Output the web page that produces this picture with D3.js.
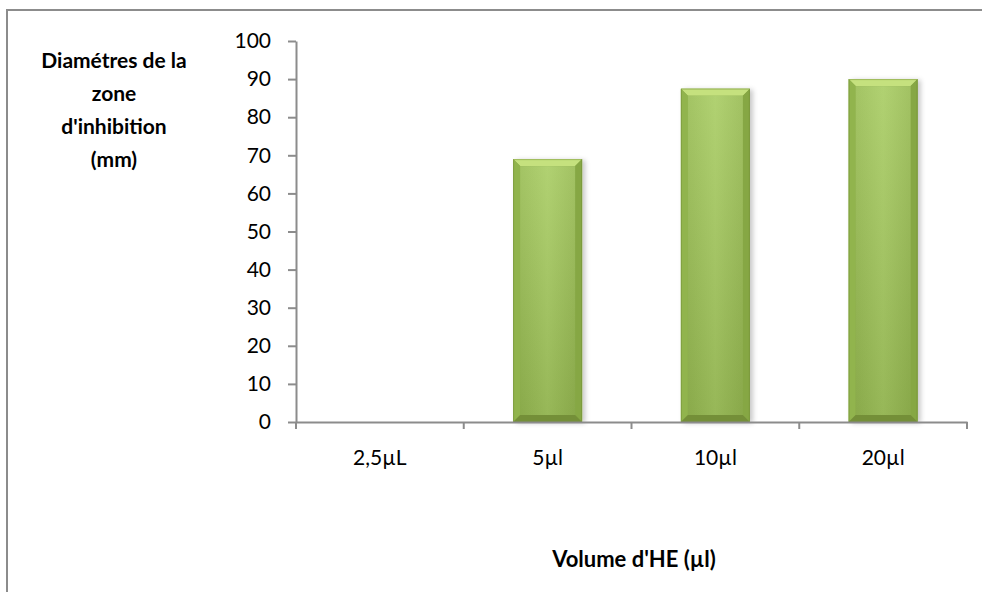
<!DOCTYPE html>
<html><head><meta charset="utf-8">
<script src="https://cdn.jsdelivr.net/npm/d3@7"></script>
<style>body{margin:0;background:#fff;overflow:hidden}svg{display:block}text{font-family:Lato,"Open Sans",sans-serif;fill:#000}</style>
</head><body><svg id="c" width="982" height="592"></svg>
<script>
const categories = ["2,5µL", "5µl", "10µl", "20µl"];
const values = [0, 69, 87.5, 90];
const yTicks = [0, 10, 20, 30, 40, 50, 60, 70, 80, 90, 100];
const yTitle = ["Diamétres de la", "zone", "d'inhibition", "(mm)"];
const xTitle = "Volume d'HE (µl)";

const svg = d3.select("#c");
const L = 296, R = 967, T = 41, B = 422;
const x = d3.scaleBand().domain(categories).range([L, R]).paddingInner(0).paddingOuter(0);
const y = d3.scaleLinear().domain([0, 100]).range([B, T]);
const barW = 69;

// outer border (left and top visible)
svg.append("path").attr("d", "M7,600 L7,10 L990,10")
  .attr("fill", "none").attr("stroke", "#8c8c8c").attr("stroke-width", 2);

const defs = svg.append("defs");
const g1 = defs.append("linearGradient").attr("id", "face").attr("x1", 0).attr("x2", 1).attr("y1", 0).attr("y2", 0);
g1.append("stop").attr("offset", 0).attr("stop-color", "#99bd53");
g1.append("stop").attr("offset", 0.5).attr("stop-color", "#a8cc62");
g1.append("stop").attr("offset", 1).attr("stop-color", "#98bb52");
const g2 = defs.append("linearGradient").attr("id", "vface").attr("x1", 0).attr("x2", 0).attr("y1", 0).attr("y2", 1);
g2.append("stop").attr("offset", 0).attr("stop-color", "#ffffff").attr("stop-opacity", 0.1);
g2.append("stop").attr("offset", 1).attr("stop-color", "#000000").attr("stop-opacity", 0.1);
const f = defs.append("filter").attr("id", "sh").attr("x", "-20%").attr("y", "-5%").attr("width", "150%").attr("height", "115%");
f.append("feDropShadow").attr("dx", 3).attr("dy", 1).attr("stdDeviation", 2.5).attr("flood-color", "#000").attr("flood-opacity", 0.22);

// bars
const bars = svg.append("g").selectAll("g").data(categories.map((c, i) => ({c, v: values[i]})).filter(d => d.v > 0))
  .join("g");
bars.each(function(d) {
  const g = d3.select(this);
  const x0 = x(d.c) + x.bandwidth() / 2 - barW / 2, x1 = x0 + barW;
  const y0 = y(d.v), y1 = y(0);
  const b = 7;
  g.append("rect").attr("x", x0).attr("y", y0).attr("width", barW).attr("height", y1 - y0)
    .attr("fill", "#8aab47").attr("filter", "url(#sh)");
  const poly = (pts, fill) => g.append("polygon").attr("points", pts.map(p => p.join(",")).join(" ")).attr("fill", fill);
  poly([[x0, y0], [x1, y0], [x1 - b, y0 + b], [x0 + b, y0 + b]], "#c5e17e");
  poly([[x0, y0], [x0 + b, y0 + b], [x0 + b, y1 - b], [x0, y1]], "#91b44d");
  poly([[x1, y0], [x1, y1], [x1 - b, y1 - b], [x1 - b, y0 + b]], "#86a744");
  poly([[x0, y1], [x0 + b, y1 - b], [x1 - b, y1 - b], [x1, y1]], "#748f38");
  g.append("rect").attr("x", x0 + b).attr("y", y0 + b).attr("width", barW - 2 * b).attr("height", Math.max(0, y1 - y0 - 2 * b))
    .attr("fill", "url(#face)");
  g.append("rect").attr("x", x0 + b).attr("y", y0 + b).attr("width", barW - 2 * b).attr("height", Math.max(0, y1 - y0 - 2 * b))
    .attr("fill", "url(#vface)");
  g.append("rect").attr("x", x0 + 0.5).attr("y", y0 + 0.5).attr("width", barW - 1).attr("height", y1 - y0 - 1)
    .attr("fill", "none").attr("stroke", "#6e8a34").attr("stroke-opacity", 0.45).attr("stroke-width", 1);
});

// y axis
const ya = svg.append("g").attr("transform", `translate(${L},0)`)
  .call(d3.axisLeft(y).tickValues(yTicks).tickSize(8).tickPadding(17).tickSizeOuter(0));
ya.select(".domain").attr("stroke", "#8c8c8c").attr("stroke-width", 2);
ya.selectAll(".tick line").attr("stroke", "#8c8c8c").attr("stroke-width", 2);
ya.selectAll(".tick text").attr("font-size", 21).attr("font-family", "Lato").attr("fill", "#000");

// x axis
const xa = svg.append("g").attr("transform", `translate(0,${B})`)
  .call(d3.axisBottom(x).tickSize(0).tickPadding(28).tickSizeOuter(0));
xa.select(".domain").attr("stroke", "#8c8c8c").attr("stroke-width", 2);
xa.selectAll(".tick text").attr("font-size", 21).attr("font-family", "Lato").attr("fill", "#000");
const bounds = categories.map(c => x(c)).concat([x(categories[categories.length - 1]) + x.bandwidth()]);
xa.selectAll("line.sep").data(bounds).join("line").attr("class", "sep")
  .attr("x1", d => d).attr("x2", d => d).attr("y1", 0).attr("y2", 7)
  .attr("stroke", "#8c8c8c").attr("stroke-width", 2);

// titles
const yt = svg.append("text").attr("text-anchor", "middle").attr("font-size", 21).attr("font-weight", "bold");
yTitle.forEach((t, i) => yt.append("tspan").attr("x", 114).attr("y", 68 + i * 33).text(t));
svg.append("text").attr("x", 634).attr("y", 567).attr("text-anchor", "middle")
  .attr("font-size", 22).attr("font-weight", "bold").text(xTitle);
</script></body></html>
